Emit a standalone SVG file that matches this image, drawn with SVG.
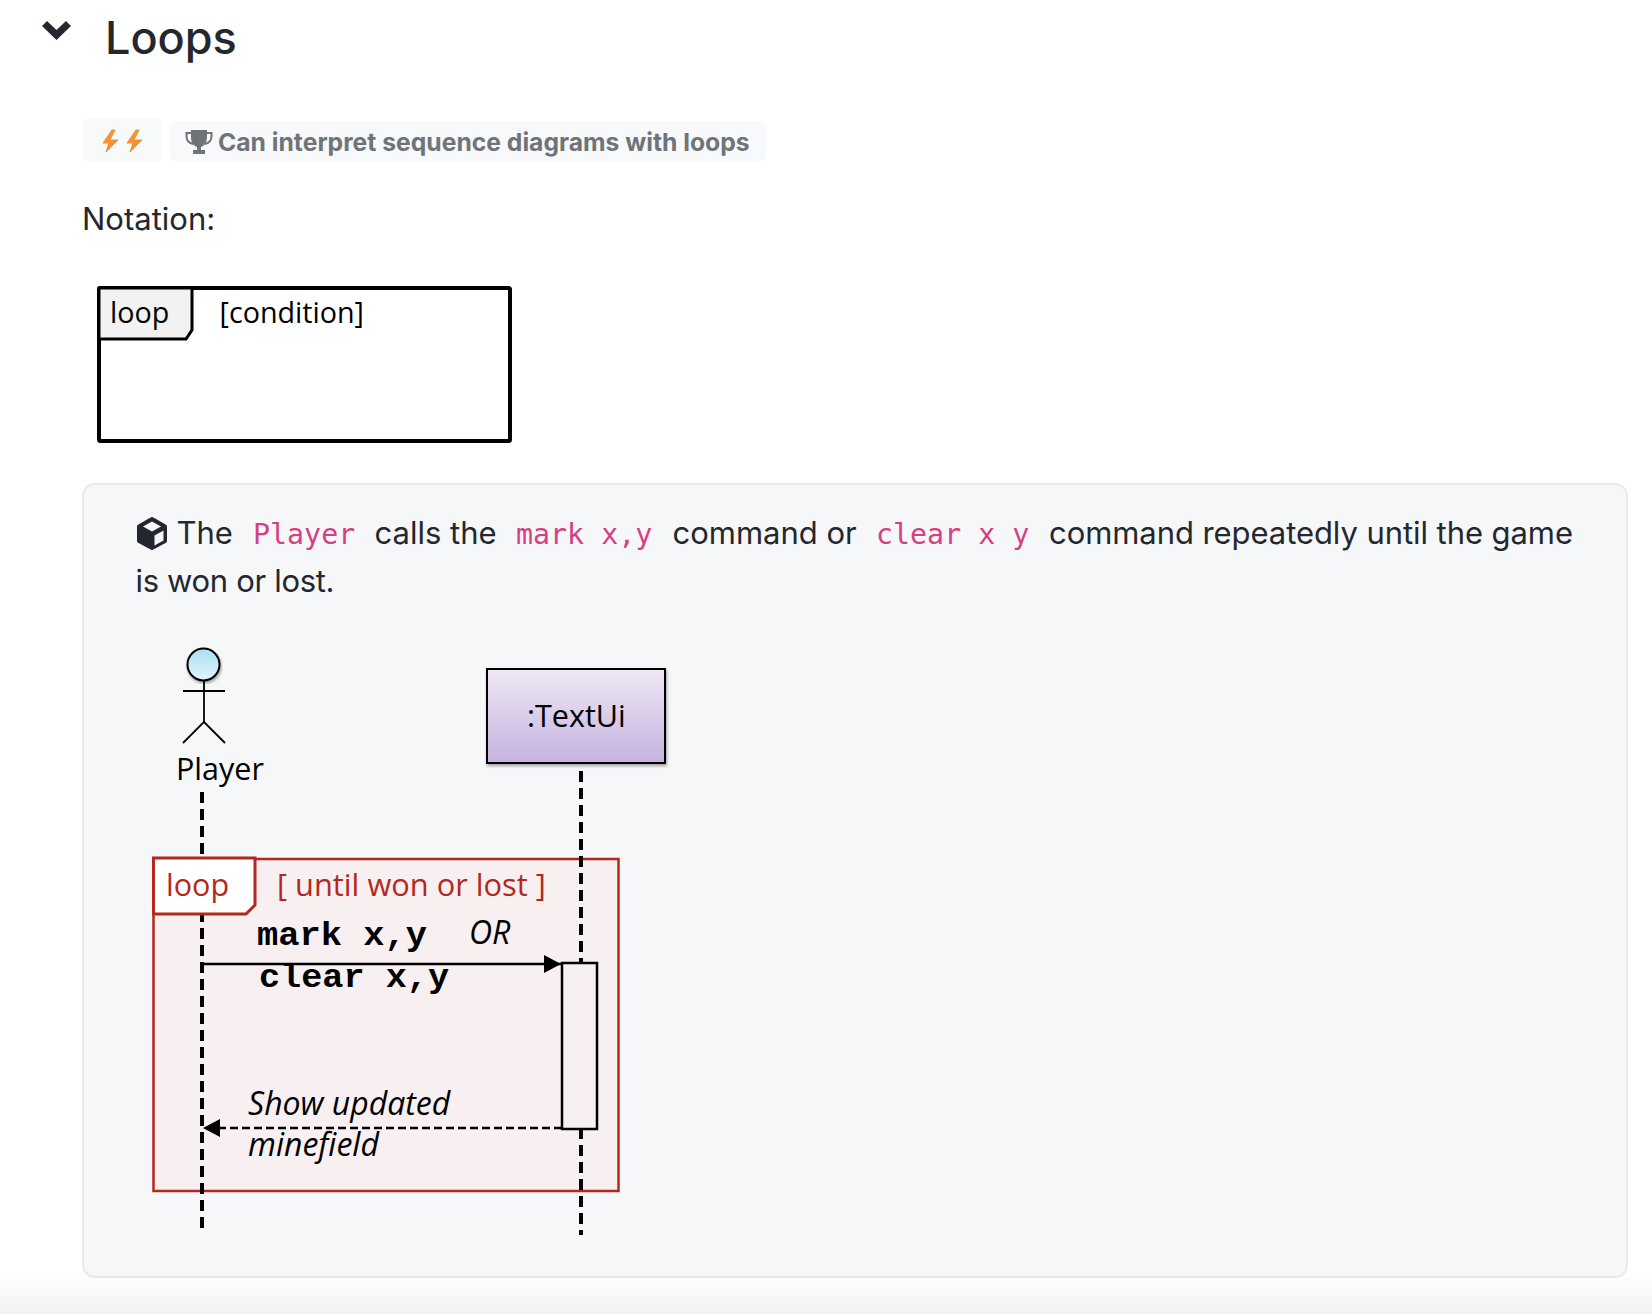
<svg xmlns="http://www.w3.org/2000/svg" width="1652" height="1314" viewBox="0 0 1652 1314">
<style>
.ui{font-family:Inter,"Liberation Sans",sans-serif;fill:#24272e}
.body{font-size:31px}
.code{font-family:"DejaVu Sans Mono","Liberation Mono",monospace;font-size:28.3px;fill:#d63f84}
.os{font-family:"Open Sans","Noto Sans",sans-serif;fill:#000}
.mono{font-family:"Liberation Mono",monospace;font-weight:700;font-size:33px;fill:#000}
.life{fill:none;stroke:#000;stroke-width:4;stroke-dasharray:11 6}
.bolt{fill:#f59234;stroke:#f59234;stroke-width:1;stroke-linejoin:round}
</style>
<defs>
<linearGradient id="head" x1="0" y1="0" x2="0" y2="1"><stop offset="0" stop-color="#a9e0f5"/><stop offset="1" stop-color="#e2f5fc"/></linearGradient>
<linearGradient id="obj" x1="0" y1="0" x2="0" y2="1"><stop offset="0" stop-color="#efe8f5"/><stop offset="1" stop-color="#c5b3df"/></linearGradient>
<linearGradient id="foot" x1="0" y1="0" x2="0" y2="1"><stop offset="0" stop-color="#ffffff"/><stop offset="1" stop-color="#f3f3f3"/></linearGradient>
<marker id="tipFill" markerUnits="userSpaceOnUse" markerWidth="18" markerHeight="18" refX="17" refY="9" orient="auto"><path d="M0 0L17 9L0 18Z" fill="#000"/></marker>
<filter id="soft" x="-10%" y="-10%" width="120%" height="120%"><feDropShadow dx="1" dy="2" stdDeviation="1.500" flood-color="#000" flood-opacity="0.35"/></filter>
</defs>
<rect width="1652" height="1314" fill="#fff"/>
<rect y="1270" width="1652" height="44" fill="url(#foot)"/>
<g id="heading">
<path d="M42 26L47 21L56.500 30L66 21L71 26L56.500 40Z" fill="#24272e"/>
<text class="ui" x="105" y="54" font-size="45" font-weight="500">Loops</text>
</g>
<g id="badges">
<rect x="83" y="118" width="78" height="44" rx="7" fill="#f8f9fa"/>
<path class="bolt" d="M112 130H115L110 140H118L106 152L109 143H103Z"/>
<path class="bolt" d="M136 130H139L134 140H142L130 152L133 143H127Z"/>
<rect x="170" y="121" width="596" height="41" rx="7" fill="#f8f9fa"/>
<path d="M191 130H207V137C207 143 204 146 201 147V150H205V154H193V150H197V147C194 146 191 143 191 137Z" fill="#6f7479"/>
<path d="M191 133H186.500V136C186.500 140 189 143 193 144M207 133H211.500V136C211.500 140 209 143 205 144" fill="none" stroke="#6f7479" stroke-width="2"/>
<text class="ui" x="218" y="151" font-size="24.700" font-weight="700" style="fill:#6f7479">Can interpret sequence diagrams with loops</text>
</g>
<text class="ui body" x="82" y="230">Notation:</text>
<g id="notation-frame">
<rect x="99" y="288" width="411" height="153" rx="1.500" fill="#fff" stroke="#000" stroke-width="4"/>
<path d="M99 288H192V330L186 339H99Z" fill="#f2f2f2" stroke="#000" stroke-width="3"/>
<text class="os" x="110" y="323" font-size="28.700">loop</text>
<text class="os" x="219.500" y="323" font-size="28.700">[condition]</text>
</g>
<g id="example-panel">
<rect x="83" y="484" width="1544" height="793" rx="12" fill="#f6f7f9" stroke="#e8e9ef" stroke-width="2"/>
<path d="M152 519L165 526.500V541L152 548L139 541V526.500Z" fill="#24272e" stroke="#24272e" stroke-width="4" stroke-linejoin="round"/>
<path d="M152 521.500L161 526.500L152 531.500L143 526.500Z" fill="#f6f7f9"/>
<path d="M154.500 535.500L163.500 530.500V540.500L154.500 545.500Z" fill="#f6f7f9"/>
<text class="ui body" x="176.500" y="544">The</text>
<text class="code" x="253" y="544">Player</text>
<text class="ui body" x="374.500" y="544">calls the</text>
<text class="code" x="516" y="544">mark x,y</text>
<text class="ui body" x="672.500" y="544">command or</text>
<text class="code" x="876" y="544">clear x y</text>
<text class="ui body" x="1049" y="544" textLength="524">command repeatedly until the game</text>
<text class="ui body" x="135.500" y="592" textLength="199">is won or lost.</text>
</g>
<g id="loop-frame">
<rect x="153.500" y="859" width="465" height="332" fill="#f7eff0" stroke="#b5271d" stroke-width="2.500"/>
</g>
<g id="connectors">
<path class="life" d="M202 792V1234"/>
<path class="life" d="M581 771V1235"/>
<path d="M204 964H561" fill="none" stroke="#000" stroke-width="2.500" marker-end="url(#tipFill)"/>
</g>
<g id="loop-tab">
<path d="M153.500 858H255V905L246 914H153.500Z" fill="#fff" stroke="#b5271d" stroke-width="3"/>
<text class="os" x="166" y="896" font-size="30.500" style="fill:#b5271d">loop</text>
<text class="os" x="277" y="896" font-size="30.800" style="fill:#b5271d">[ until won or lost ]</text>
</g>
<g id="player">
<circle cx="203.500" cy="664.500" r="16" fill="url(#head)" stroke="#000" stroke-width="2" filter="url(#soft)"/>
<path d="M183 691H225M204 681V722L183 743M204 722L225 743" fill="none" stroke="#000" stroke-width="1.800"/>
<text class="os" x="176" y="780" font-size="30.500">Player</text>
</g>
<g id="textui">
<rect x="487" y="669" width="178" height="94" fill="url(#obj)" stroke="#000" stroke-width="2" filter="url(#soft)"/>
<text class="os" x="527" y="727" font-size="30.500">:TextUi</text>
</g>
<g id="activation">
<rect x="562" y="963" width="35" height="166" fill="#f7eff0" stroke="#000" stroke-width="2.500"/>
</g>
<g id="return-connector">
<path d="M562 1128H203" fill="none" stroke="#000" stroke-width="2.500" stroke-dasharray="8 4" marker-end="url(#tipFill)"/>
</g>
<g id="labels">
<text class="mono" x="257" y="945" textLength="170" lengthAdjust="spacingAndGlyphs">mark x,y</text>
<text class="os" x="469" y="944" font-size="32" font-style="italic">OR</text>
<text class="mono" x="259" y="987" textLength="190" lengthAdjust="spacingAndGlyphs">clear x,y</text>
<text class="os" x="248" y="1114.500" font-size="32" font-style="italic">Show updated</text>
<text class="os" x="248" y="1156" font-size="32" font-style="italic">minefield</text>
</g>
</svg>
